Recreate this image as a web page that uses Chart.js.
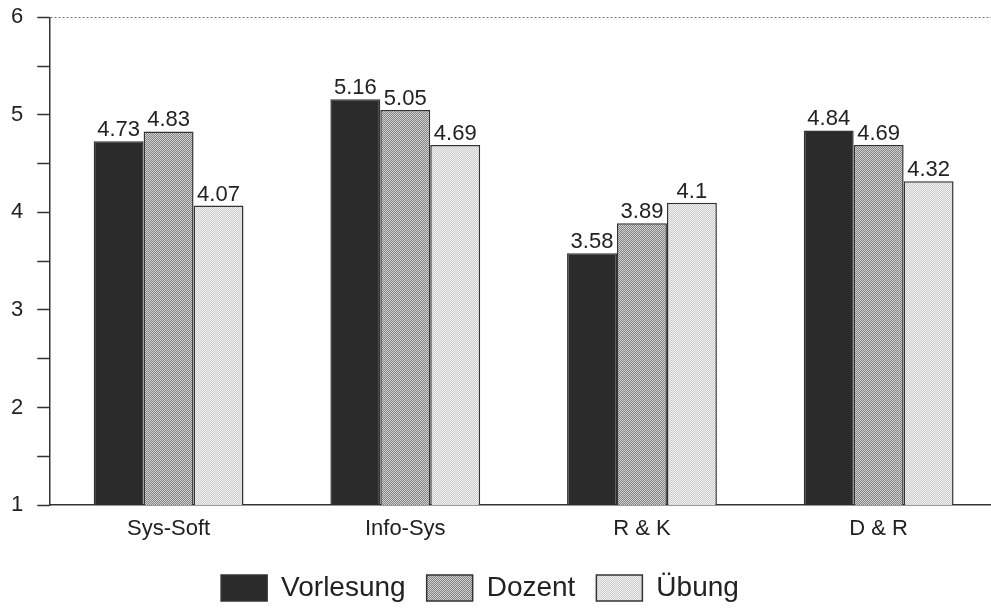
<!DOCTYPE html>
<html>
<head>
<meta charset="utf-8">
<script src="https://cdn.jsdelivr.net/npm/chart.js@4"></script>
<style>
  body { margin: 0; background: #fff; overflow: hidden; }
  .chart { position: absolute; left: 0; top: 0; width: 1000px; height: 612px; }
</style>
</head>
<body>
<div class="chart"><canvas id="myChart"></canvas></div>
<script>
const categories = ['Sys-Soft', 'Info-Sys', 'R & K', 'D & R']
const seriesNames = ['Vorlesung', 'Dozent', 'Übung']
const vorlesung = [4.73, 5.16, 3.58, 4.84]
const dozent = [4.83, 5.05, 3.89, 4.69]
const uebung = [4.07, 4.69, 4.1, 4.32]
const yMin = 1
const yMax = 6
const yStep = 0.5

Chart.defaults.font.family = "'Liberation Sans', Arial, sans-serif"
Chart.defaults.color = '#222'

// small dotted fills like the scanned raster
const makePattern = (c1, c2) => {
  const p = document.createElement('canvas')
  p.width = 2
  p.height = 2
  const g = p.getContext('2d')
  g.fillStyle = c1
  g.fillRect(0, 0, 2, 2)
  g.fillStyle = c2
  g.fillRect(0, 0, 1, 1)
  g.fillRect(1, 1, 1, 1)
  return g.createPattern(p, 'repeat')
}

const fills = ['#2b2b2b', makePattern('#858585', '#d0d0d0'), makePattern('#cdcdcd', '#efefef')]
const values = [vorlesung, dozent, uebung]

// value text above each bar
const valueLabels = {
  id: 'valueLabels',
  afterDatasetsDraw(chart) {
    const ctx = chart.ctx
    ctx.save()
    ctx.font = "22px 'Liberation Sans', Arial, sans-serif"
    ctx.fillStyle = '#222'
    ctx.textAlign = 'center'
    ctx.textBaseline = 'alphabetic'
    chart.data.datasets.forEach((ds, i) => {
      chart.getDatasetMeta(i).data.forEach((bar, j) => {
        ctx.fillText(String(ds.data[j]), bar.x, bar.y - 5)
      })
    })
    ctx.restore()
  }
}

// legend in the scan sits a bit left of the page centre
const legendShift = {
  id: 'legendShift',
  afterLayout(chart) {
    chart.legend.left -= 17
    chart.legend.right -= 17
  }
}

const ctx = document.getElementById('myChart')
new Chart(ctx, {
  type: 'bar',
  data: {
    labels: categories,
    datasets: seriesNames.map((name, i) => ({
      label: name,
      data: values[i],
      backgroundColor: fills[i],
      borderColor: '#333',
      borderWidth: 1.5,
      categoryPercentage: 0.633,
      barPercentage: 1
    }))
  },
  options: {
    responsive: true,
    maintainAspectRatio: false,
    animation: false,
    layout: { padding: { left: -3, right: 3, top: 0, bottom: 0 } },
    plugins: {
      tooltip: { enabled: false },
      legend: {
        position: 'bottom',
        labels: {
          boxWidth: 46,
          boxHeight: 26,
          padding: 21,
          color: '#222',
          font: { size: 28 }
        }
      }
    },
    scales: {
      x: {
        grid: { display: false, drawTicks: false },
        border: { display: true, color: '#333', width: 1.5 },
        ticks: { padding: 0, color: '#222', font: { size: 22, lineHeight: 2.18 } }
      },
      y: {
        min: yMin,
        max: yMax,
        ticks: {
          stepSize: yStep,
          autoSkip: false,
          padding: 14,
          color: '#222',
          font: { size: 22, lineHeight: 0.3 },
          callback: (v) => Number.isInteger(v) ? v : ''
        },
        grid: {
          color: (c) => c.tick && c.tick.value === yMax ? '#777' : 'rgba(0,0,0,0)',
          lineWidth: 1,
          tickColor: '#333',
          tickWidth: 1.5,
          tickLength: 13
        },
        border: { display: true, color: '#333', width: 1.5, dash: [2, 2] }
      }
    }
  },
  plugins: [valueLabels, legendShift]
})
</script>
</body>
</html>
